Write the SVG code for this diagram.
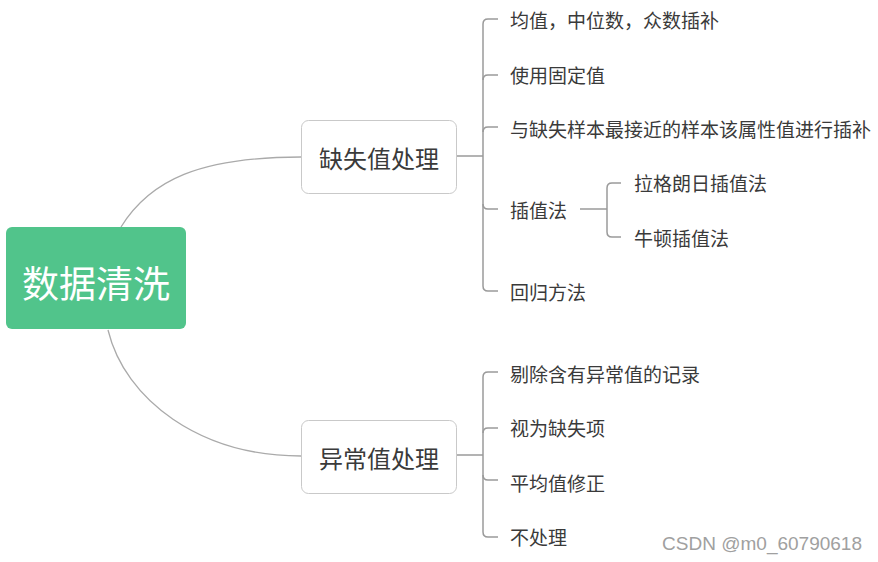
<svg xmlns="http://www.w3.org/2000/svg" width="878" height="562" viewBox="0 0 878 562">
<style>
  .t { font-family: "Noto Sans CJK SC", "Noto Sans", sans-serif; fill: #3a3a3a; }
  .leaf { font-size: 19px; dominant-baseline: central; }
  .mid { font-size: 24px; text-anchor: middle; dominant-baseline: central; }
  .box { fill: #fff; stroke: #c9c9c9; stroke-width: 1; }
  .ln { fill: none; stroke: #9a9a9a; stroke-width: 1.5; }
  .cv { fill: none; stroke: #aaaaaa; stroke-width: 1.3; }
</style>
<rect width="878" height="562" fill="#fff"/>
<g id="connectors">
  <path class="cv" d="M121 227 C150 180, 200 157, 301 157"/>
  <path class="cv" d="M108 330 C125 400, 200 456, 301 456"/>
  <path class="ln" d="M456 156 H483"/>
  <path class="ln" d="M498 19 H488 Q483 19 483 24 V286 Q483 291 488 291 H498"/>
  <path class="ln" d="M483 80 Q483 75 488 75 H498"/>
  <path class="ln" d="M483 132 Q483 127 488 127 H498"/>
  <path class="ln" d="M483 204 Q483 209 488 209 H498"/>
  <path class="ln" d="M580 209 H607"/>
  <path class="ln" d="M621 183 H612 Q607 183 607 188 V232 Q607 237 612 237 H621"/>
  <path class="ln" d="M456 455 H483"/>
  <path class="ln" d="M498 372 H488 Q483 372 483 377 V532 Q483 537 488 537 H498"/>
  <path class="ln" d="M483 433 Q483 428 488 428 H498"/>
  <path class="ln" d="M483 475 Q483 480 488 480 H498"/>
</g>
<g id="root">
  <rect x="6" y="227" width="180" height="102" rx="6" fill="#51c48b"/>
  <text x="96" y="282" class="t" font-size="37" text-anchor="middle" dominant-baseline="central" style="fill:#fff">数据清洗</text>
</g>
<g id="n-missing">
  <rect class="box" x="301.5" y="120.5" width="155" height="73" rx="7"/>
  <text class="t mid" x="379" y="157">缺失值处理</text>
</g>
<g id="n-outlier">
  <rect class="box" x="301.5" y="420.5" width="155" height="73" rx="7"/>
  <text class="t mid" x="379" y="457">异常值处理</text>
</g>
<g id="m1"><text class="t leaf" x="510" y="19">均值，中位数，众数插补</text></g>
<g id="m2"><text class="t leaf" x="510" y="74">使用固定值</text></g>
<g id="m3"><text class="t leaf" x="510" y="128">与缺失样本最接近的样本该属性值进行插补</text></g>
<g id="m4"><text class="t leaf" x="510" y="209">插值法</text></g>
<g id="m5"><text class="t leaf" x="510" y="291">回归方法</text></g>
<g id="m4a"><text class="t leaf" x="634" y="182">拉格朗日插值法</text></g>
<g id="m4b"><text class="t leaf" x="634" y="237">牛顿插值法</text></g>
<g id="o1"><text class="t leaf" x="510" y="373">剔除含有异常值的记录</text></g>
<g id="o2"><text class="t leaf" x="510" y="427">视为缺失项</text></g>
<g id="o3"><text class="t leaf" x="510" y="482">平均值修正</text></g>
<g id="o4"><text class="t leaf" x="510" y="536">不处理</text></g>
<text x="862" y="550" font-family="Liberation Sans, Arial, sans-serif" font-size="19" fill="#a0a0a0" text-anchor="end">CSDN @m0_60790618</text>
</svg>
